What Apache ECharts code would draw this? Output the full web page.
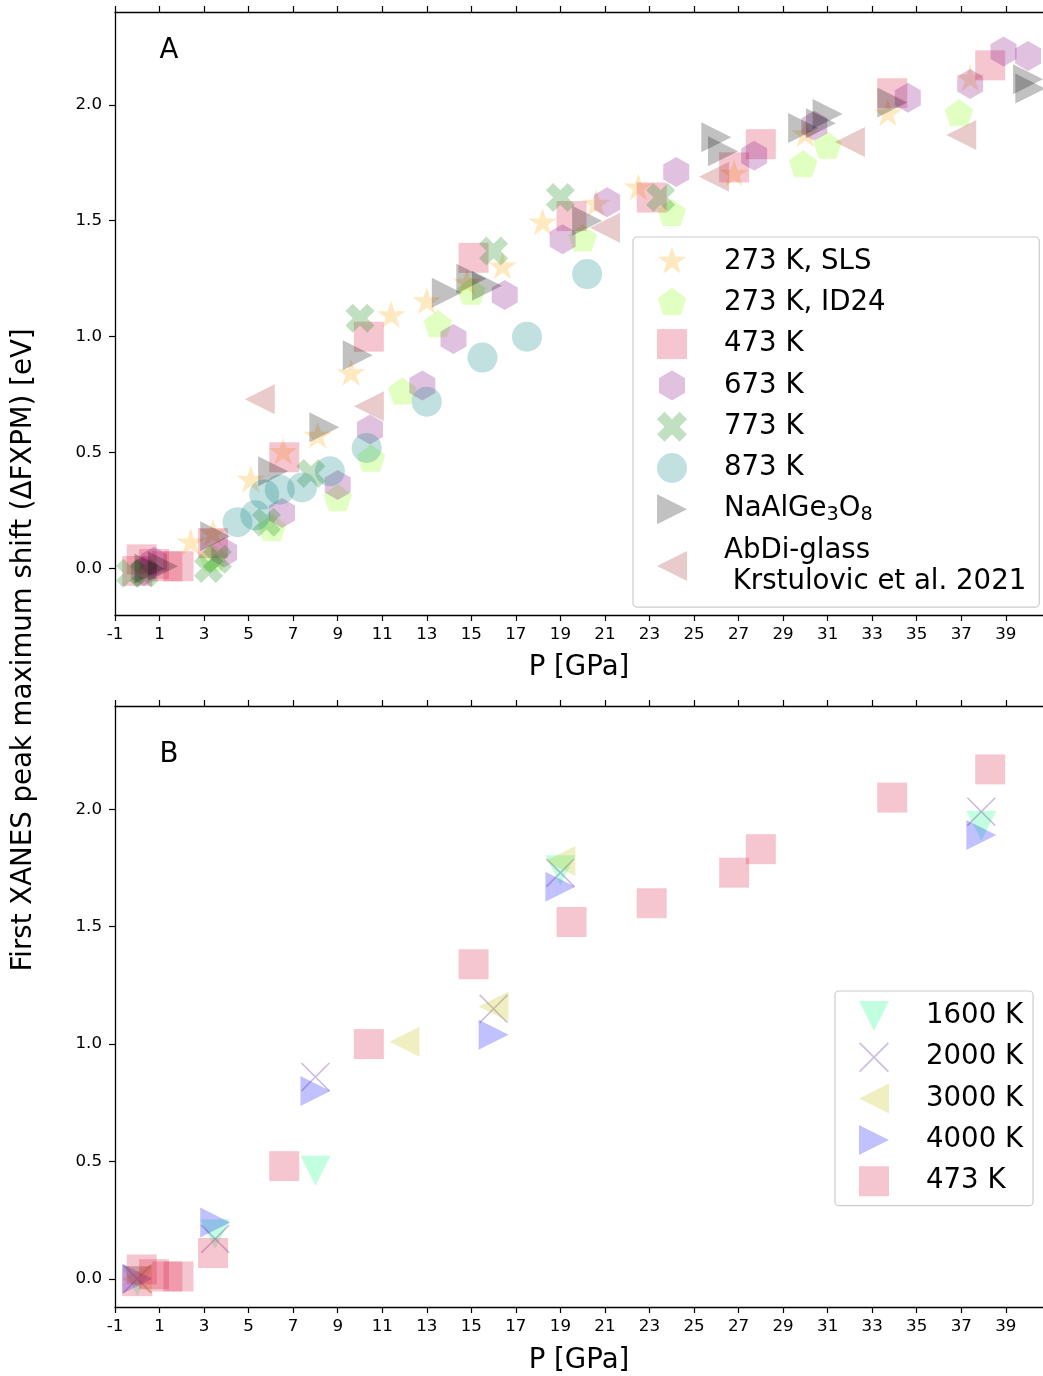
<!DOCTYPE html>
<html>
<head>
<meta charset="utf-8">
<script src="https://cdn.jsdelivr.net/npm/echarts@6/dist/echarts.min.js"></script>
<style>
html,body{margin:0;padding:0;background:#fff;}
#chart{width:1043px;height:1376px;}
</style>
</head>
<body>
<div id="chart"></div>
<script>
// ---------- data (P [GPa], shift [eV]) ----------
const pressureTicks = [-1,1,3,5,7,9,11,13,15,17,19,21,23,25,27,29,31,33,35,37,39];
const shiftTicks = [0, 0.5, 1.0, 1.5, 2.0];

// Panel A
const sls273 = [[2.4,0.11],[3.4,0.15],[5.1,0.38],[6.55,0.50],[8.1,0.57],[9.6,0.84],[11.4,1.09],[13.0,1.15],[14.8,1.23],[16.4,1.30],[18.2,1.49],[20.6,1.57],[22.5,1.64],[26.8,1.70],[30.0,1.87],[33.7,1.96],[37.4,2.11]];
const id24_273 = [[3.4,0.04],[6.05,0.17],[9.0,0.30],[10.5,0.47],[11.9,0.76],[13.5,1.05],[15.0,1.19],[20.0,1.42],[24.0,1.53],[29.9,1.74],[31.0,1.82],[36.9,1.96]];
const k473 = [[0.0,-0.01],[0.2,0.04],[0.75,0.02],[1.35,0.01],[1.85,0.01],[3.4,0.11],[6.6,0.48],[10.4,1.0],[15.1,1.34],[19.5,1.52],[23.1,1.60],[26.8,1.73],[28.0,1.83],[33.9,2.05],[38.3,2.17]];
const k673 = [[0.3,-0.01],[0.75,0.03],[3.9,0.07],[6.5,0.24],[9.0,0.36],[10.45,0.60],[12.8,0.79],[14.2,0.99],[16.5,1.18],[19.1,1.42],[21.1,1.58],[24.2,1.71],[27.7,1.78],[30.4,1.91],[34.6,2.03],[37.4,2.09],[38.9,2.23],[40.0,2.21]];
const k773 = [[-0.3,-0.02],[0.3,-0.02],[3.2,0.0],[3.6,0.04],[5.8,0.20],[7.8,0.41],[10.0,1.08],[16.0,1.37],[19.0,1.60],[23.5,1.60]];
const k873 = [[4.5,0.20],[5.3,0.23],[5.7,0.32],[6.4,0.34],[7.4,0.35],[8.65,0.42],[10.3,0.52],[13.0,0.72],[15.5,0.91],[17.5,1.0],[20.2,1.27]];
const naalge = [[0.55,0.0],[1.15,0.01],[3.5,0.14],[6.1,0.42],[8.4,0.61],[9.9,0.92],[13.9,1.19],[15.0,1.25],[15.7,1.22],[20.2,1.50],[26.0,1.86],[26.3,1.80],[29.9,1.90],[30.7,1.92],[31.0,1.96],[33.9,2.01],[40.0,2.11],[40.1,2.07]];
const abdi = [[5.5,0.73],[10.4,0.70],[21.0,1.47],[25.9,1.69],[32.0,1.84],[37.0,1.87]];

// Panel B
const k1600 = [[0.0,-0.01],[3.5,0.19],[8.0,0.46],[19.0,1.74],[37.9,1.93]];
const k2000 = [[0.0,0.0],[3.5,0.17],[8.0,0.86],[16.0,1.15],[19.0,1.73],[37.9,1.99]];
const k3000 = [[0.0,0.0],[12.0,1.01],[16.0,1.16],[19.0,1.78]];
const k4000 = [[0.0,0.0],[3.5,0.24],[8.0,0.80],[16.0,1.04],[19.0,1.67],[37.9,1.89]];

const namesA = ['273 K, SLS','273 K, ID24','473 K','673 K','773 K','873 K','NaAlGe\u2083O\u2088','AbDi-glass\n Krstulovic et al. 2021'];
const namesB = ['1600 K','2000 K','3000 K','4000 K','473 K'];
// legend rich labels (subscripts drawn as real smaller, lowered text)
const legendRich = { 'NaAlGe\u2083O\u2088': 'NaAlGe{s|3}O{s|8}' };

// ---------- symbols ----------
const SYM = {
  star: 'path://M50,0L61.2,34.5L97.6,34.5L68.2,55.9L79.4,90.5L50,69.1L20.6,90.5L31.8,55.9L2.4,34.5L38.8,34.5ZM50,100L50,100Z',
  pentagon: 'path://M50,0L97.55,34.55L79.39,90.45L20.61,90.45L2.45,34.55ZM50,100L50,100Z',
  hexagon: 'path://M50,0L93.3,25L93.3,75L50,100L6.7,75L6.7,25Z',
  square: 'path://M0,0L100,0L100,100L0,100Z',
  circle: 'circle',
  xfilled: 'path://M75,0L100,25L75,50L100,75L75,100L50,75L25,100L0,75L25,50L0,25L25,0L50,25Z',
  xthin: 'path://M4,0L50,46L96,0L100,4L54,50L100,96L96,100L50,54L4,100L0,96L46,50L0,4Z',
  tright: 'path://M0,0L100,50L0,100Z',
  tleft: 'path://M100,0L0,50L100,100Z',
  tdown: 'path://M0,0L100,0L50,100Z'
};
const A = 0.3;
const COL = {
  orange: `rgba(255,165,0,${A})`,
  chartreuse: `rgba(127,255,0,${A})`,
  crimson: `rgba(220,20,60,${A})`,
  purple: `rgba(128,0,128,${A})`,
  green: `rgba(0,128,0,${A})`,
  teal: `rgba(0,128,128,${A})`,
  black: `rgba(0,0,0,${A})`,
  brown: `rgba(165,42,42,${A})`,
  spring: `rgba(0,255,127,${A})`,
  indigo: `rgba(102,51,153,0.4)`,
  yellow: `rgba(191,191,0,${A})`,
  blue: `rgba(0,0,255,${A})`
};

function sc(name, data, sym, size, color, xi, yi) {
  return {
    type: 'scatter', name: name, data: data,
    xAxisIndex: xi, yAxisIndex: yi,
    symbol: sym, symbolSize: size, symbolKeepAspect: true,
    itemStyle: { color: color },
    emphasis: { disabled: true },
    clip: false
  };
}

const FONT = 'DejaVu Sans';
const tickFont = 16.7;
const bigFont = 27.6;

function xAxes(grid, pos, gap) {
  const bottom = pos === 'bottom';
  return {
    gridIndex: grid, type: 'value', position: pos,
    min: -1, max: 40.67,
    name: bottom ? 'P [GPa]' : '',
    nameLocation: 'middle', nameGap: gap,
    nameTextStyle: { fontFamily: FONT, fontSize: bigFont, color: '#000' },
    axisLine: { show: true, onZero: false, lineStyle: { color: '#000', width: 1.3 } },
    axisTick: { show: true, inside: false, length: 6, customValues: pressureTicks, lineStyle: { color: '#000', width: 1.2 } },
    axisLabel: { show: bottom, customValues: pressureTicks, margin: 11, fontFamily: FONT, fontSize: tickFont, color: '#000', formatter: v => String(v) },
    splitLine: { show: false }
  };
}
function yAxis(grid, mn, mx) {
  return {
    gridIndex: grid, type: 'value', min: mn, max: mx,
    axisLine: { show: true, onZero: false, lineStyle: { color: '#000', width: 1.3 } },
    axisTick: { show: true, inside: false, length: 6, customValues: shiftTicks, lineStyle: { color: '#000', width: 1.2 } },
    axisLabel: { customValues: shiftTicks, margin: 13, fontFamily: FONT, fontSize: tickFont, color: '#000', formatter: v => v.toFixed(1) },
    splitLine: { show: false }
  };
}
function legend(names, left, top, pad) {
  return {
    data: names, orient: 'vertical', left: left, top: top, padding: pad,
    itemWidth: 30, itemHeight: 30, itemGap: 10.3, symbolKeepAspect: true,
    selectedMode: false,
    backgroundColor: 'rgba(255,255,255,0.8)', borderColor: '#cccccc', borderWidth: 1.2, borderRadius: 4,
    formatter: n => '{g| }' + (legendRich[n] || n).split('\n').join('\n{g| }'),
    textStyle: { fontFamily: FONT, fontSize: bigFont, color: '#000', lineHeight: 31,
      rich: {
        g: { width: 32, fontSize: bigFont, lineHeight: 31 },
        s: { fontSize: 19.3, lineHeight: 21, verticalAlign: 'bottom', fontFamily: FONT, color: '#000' }
      } }
  };
}

const chart = echarts.init(document.getElementById('chart'), null, { renderer: 'canvas' });
chart.setOption({
  animation: false,
  backgroundColor: '#fff',
  grid: [
    { left: 115, top: 12, width: 928, height: 603 },
    { left: 115, top: 706, width: 928, height: 602 }
  ],
  xAxis: [xAxes(0, 'bottom', 39), xAxes(0, 'top', 0), xAxes(1, 'bottom', 40), xAxes(1, 'top', 0)],
  yAxis: [yAxis(0, -0.2, 2.4), yAxis(1, -0.12, 2.44)],
  legend: [legend(namesA, 633, 237, [9, 13, 10, 24]), legend(namesB, 835, 991, [9.5, 10, 9, 24])],
  graphic: [
    { type: 'text', x: 24, y: 650, rotation: Math.PI / 2,
      style: { text: 'First XANES peak maximum shift (\u0394FXPM) [eV]', font: `${bigFont}px "${FONT}"`, fill: '#000', textAlign: 'center', textVerticalAlign: 'middle' } },
    { type: 'text', x: 169, y: 51, style: { text: 'A', font: `${bigFont}px "${FONT}"`, fill: '#000', textAlign: 'center', textVerticalAlign: 'middle' } },
    { type: 'text', x: 169, y: 755, style: { text: 'B', font: `${bigFont}px "${FONT}"`, fill: '#000', textAlign: 'center', textVerticalAlign: 'middle' } }
  ],
  series: [
    sc(namesA[0], sls273, SYM.star, 30, COL.orange, 0, 0),
    sc(namesA[1], id24_273, SYM.pentagon, 30, COL.chartreuse, 0, 0),
    sc(namesA[2], k473, SYM.square, 30, COL.crimson, 0, 0),
    sc(namesA[3], k673, SYM.hexagon, 30, COL.purple, 0, 0),
    sc(namesA[4], k773, SYM.xfilled, 29, COL.green, 0, 0),
    sc(namesA[5], k873, SYM.circle, 30, COL.teal, 0, 0),
    sc(namesA[6], naalge, SYM.tright, 30, COL.black, 0, 0),
    sc(namesA[7], abdi, SYM.tleft, 30, COL.brown, 0, 0),
    sc(namesB[0], k1600, SYM.tdown, 30, COL.spring, 2, 1),
    sc(namesB[1], k2000, SYM.xthin, 29, COL.indigo, 2, 1),
    sc(namesB[2], k3000, SYM.tleft, 30, COL.yellow, 2, 1),
    sc(namesB[3], k4000, SYM.tright, 30, COL.blue, 2, 1),
    sc(namesB[4], k473, SYM.square, 30, COL.crimson, 2, 1)
  ]
});
</script>
</body>
</html>
